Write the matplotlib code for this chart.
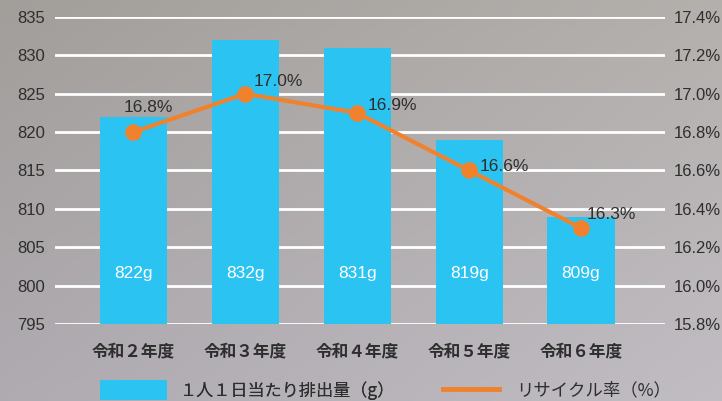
import numpy as np
import matplotlib
matplotlib.use("Agg")
import matplotlib.pyplot as plt
from matplotlib.patches import Patch
from matplotlib.lines import Line2D

plt.rcParams['font.family'] = ['Liberation Sans', 'Noto Sans CJK JP', 'DejaVu Sans']

categories = ["令和２年度", "令和３年度", "令和４年度", "令和５年度", "令和６年度"]
waste_g = [822, 832, 831, 819, 809]
recycle_pct = [16.8, 17.0, 16.9, 16.6, 16.3]
left_ticks = [795, 800, 805, 810, 815, 820, 825, 830, 835]
right_ticks = [15.8, 16.0, 16.2, 16.4, 16.6, 16.8, 17.0, 17.2, 17.4]
legend_labels = ["１人１日当たり排出量（g）", "リサイクル率（%）"]

W, H = 722, 401
fig = plt.figure(figsize=(W / 100, H / 100), dpi=100)

# photographic-like gray background
bg = fig.add_axes([0, 0, 1, 1])
yy, xx = np.mgrid[0:1:200j, 0:1:360j]
base = 0.62 + 0.07 * xx + 0.05 * yy
r = base + 0.015
g = base
b = base - 0.015 + 0.04 * yy
img = np.clip(np.dstack([r, g, b]), 0, 1)
bg.imshow(img, extent=[0, 1, 0, 1], aspect='auto', zorder=0)
bg.set_xlim(0, 1); bg.set_ylim(0, 1)
bg.axis('off')

ax = fig.add_axes([55 / W, 1 - 324 / H, 610 / W, 307 / H])
ax.patch.set_alpha(0)
x = np.arange(len(categories))
bar_color = '#2BC4F2'
line_color = '#F0822E'
text_color = '#2e2e2e'

ax.set_ylim(795, 835)
ax.set_xlim(-0.70, 4.75)
ax.set_yticks(left_ticks)
ax.grid(axis='y', color='white', linewidth=2, zorder=1)
ax.set_axisbelow(True)
ax.bar(x, [v - 795 for v in waste_g], bottom=795, width=0.6,
       color=bar_color, zorder=2)
for xi, v in zip(x, waste_g):
    ax.text(xi, 801.6, f"{v}g", ha='center', va='center', color='white',
            fontsize=12.5, zorder=5)

ax.set_xticks(x)
ax.set_xticklabels(categories, fontsize=12, color=text_color, fontweight='bold',
                   family=['Noto Sans CJK JP'])
ax.tick_params(axis='x', length=0, pad=13)
ax.tick_params(axis='y', length=0, pad=7, labelsize=12, labelcolor=text_color)
for s in ax.spines.values():
    s.set_visible(False)

ax2 = ax.twinx()
ax2.set_ylim(15.8, 17.4)
ax2.set_yticks(right_ticks)
ax2.set_yticklabels([f"{t:.1f}%" for t in right_ticks])
ax2.tick_params(axis='y', length=0, pad=6, labelsize=12, labelcolor=text_color)
for s in ax2.spines.values():
    s.set_visible(False)
ax2.plot(x, recycle_pct, color=line_color, linewidth=3, marker='o',
         markersize=11, zorder=4)
offsets = [(-7, 18), (6, 9), (7.5, 5), (7.5, 3), (4, 9.5)]
for xi, v, (dx, dy) in zip(x, recycle_pct, offsets):
    ax2.annotate(f"{v:.1f}%", (xi, v), xytext=(dx, dy), textcoords='offset points',
                 ha='left', va='center', fontsize=12.5, color=text_color, zorder=6)

# legend (two entries with different handle lengths)
leg1 = fig.legend([Patch(facecolor=bar_color, edgecolor='none')], [legend_labels[0]],
                  loc='center left', bbox_to_anchor=(100 / W, 1 - 390 / H),
                  frameon=False, handlelength=3.9, handleheight=1.4,
                  handletextpad=0.75, borderpad=0, borderaxespad=0,
                  labelcolor=text_color, prop={'family': ['Noto Sans CJK JP'], 'size': 12.3})
leg2 = fig.legend([Line2D([0], [0], color=line_color, linewidth=3.5)], [legend_labels[1]],
                  loc='center left', bbox_to_anchor=(443 / W, 1 - 390 / H),
                  frameon=False, handlelength=3.2,
                  handletextpad=1.0, borderpad=0, borderaxespad=0,
                  labelcolor=text_color, prop={'family': ['Noto Sans CJK JP'], 'size': 12.5})
fig.add_artist(leg1)

fig.savefig("out.png", dpi=100)
